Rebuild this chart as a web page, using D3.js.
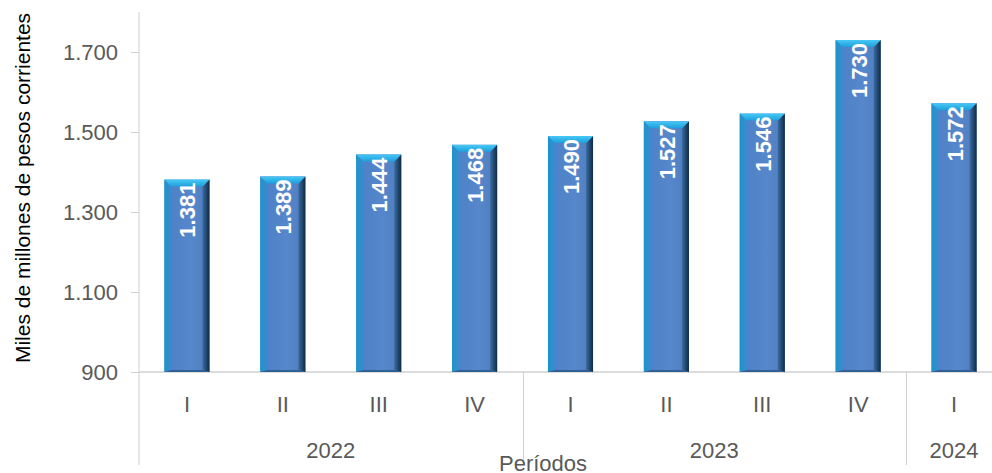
<!DOCTYPE html>
<html><head><meta charset="utf-8">
<script src="https://cdn.jsdelivr.net/npm/d3@7"></script>
<style>body{margin:0;background:#fff}svg{display:block}</style>
</head><body>
<script>
const quarters = ["I","II","III","IV","I","II","III","IV","I"];
const years = ["2022","2022","2022","2022","2023","2023","2023","2023","2024"];
const values = [1381,1389,1444,1468,1490,1527,1546,1730,1572];
const yTicks = [900,1100,1300,1500,1700];
const yTitle = "Miles de millones de pesos corrientes";
const xTitle = "Períodos";

(function(){
const W = 992, H = 473;
const pLeft = 139, pRight = 1002, pTop = 12, base = 372;
const svg = d3.select("body").append("svg").attr("width", W).attr("height", H);
const font = "'Liberation Sans', Arial, sans-serif";
const loc = d3.formatLocale({decimal: ",", thousands: ".", grouping: [3], currency: ["$",""]});
const fmt = loc.format(",d");

const ids = values.map((v,i)=>i);
const x = d3.scaleBand().domain(ids).range([pLeft, pRight]).paddingInner(0.53).paddingOuter(0.265);
const y = d3.scaleLinear().domain([900,1800]).range([base, pTop]);

const defs = svg.append("defs");
const g1 = defs.append("linearGradient").attr("id","face").attr("x1",0).attr("x2",1).attr("y1",0).attr("y2",0);
g1.append("stop").attr("offset","0%").attr("stop-color","#4a7fc6");
g1.append("stop").attr("offset","60%").attr("stop-color","#5787cb");
g1.append("stop").attr("offset","100%").attr("stop-color","#4d7cbd");
const gr = defs.append("linearGradient").attr("id","rightEdge").attr("x1",0).attr("x2",1).attr("y1",0).attr("y2",0);
gr.append("stop").attr("offset","0%").attr("stop-color","#3a6da3");
gr.append("stop").attr("offset","100%").attr("stop-color","#0e2a45");
const gl = defs.append("linearGradient").attr("id","leftEdge").attr("x1",0).attr("x2",1).attr("y1",0).attr("y2",0);
gl.append("stop").attr("offset","0%").attr("stop-color","#1b95c9");
gl.append("stop").attr("offset","100%").attr("stop-color","#3d8ad0");
const gt = defs.append("linearGradient").attr("id","topEdge").attr("x1",0).attr("x2",0).attr("y1",0).attr("y2",1);
gt.append("stop").attr("offset","0%").attr("stop-color","#47c8f5");
gt.append("stop").attr("offset","100%").attr("stop-color","#1e9fdc");

const yAxis = d3.axisLeft(y).tickValues(yTicks).tickSize(8).tickPadding(13).tickFormat(fmt);
const ya = svg.append("g").attr("transform",`translate(${pLeft},0)`).call(yAxis);
ya.select(".domain").remove();
ya.selectAll(".tick line").attr("stroke","#d0d0d0");
ya.selectAll(".tick text").attr("font-family",font).attr("font-size",22).attr("fill","#595959");
svg.append("line").attr("x1",pLeft).attr("x2",pLeft).attr("y1",pTop).attr("y2",465).attr("stroke","#d0d0d0");

svg.append("line").attr("x1",pLeft).attr("x2",W).attr("y1",base).attr("y2",base).attr("stroke","#d0d0d0").attr("stroke-width",1.5);

const step = x.step();
const groups = [];
years.forEach((yr,i)=>{ if(!groups.length || groups[groups.length-1].yr!==yr) groups.push({yr, s:i, e:i}); else groups[groups.length-1].e=i; });
const bandStart = i => x(i) - (step - x.bandwidth())/2;
groups.slice(1).forEach(g=>{
  const xx = Math.round(bandStart(g.s))+0.5;
  svg.append("line").attr("x1",xx).attr("x2",xx).attr("y1",base).attr("y2",465).attr("stroke","#d0d0d0");
});

const bev = 7;
const bars = svg.append("g").selectAll("g").data(ids).join("g");
bars.each(function(i){
  const g = d3.select(this);
  const x0 = x(i), w = x.bandwidth(), x1 = x0 + w, yt = y(values[i]), yb = base;
  g.append("rect").attr("x",x0).attr("y",yt).attr("width",w).attr("height",yb-yt).attr("fill","url(#face)");
  g.append("polygon").attr("points",`${x0},${yt} ${x0+bev},${yt+bev} ${x0+bev},${yb-2} ${x0},${yb}`).attr("fill","url(#leftEdge)");
  g.append("polygon").attr("points",`${x1},${yt} ${x1-bev},${yt+bev} ${x1-bev},${yb-2} ${x1},${yb}`).attr("fill","url(#rightEdge)");
  g.append("polygon").attr("points",`${x0},${yt} ${x1},${yt} ${x1-bev},${yt+bev} ${x0+bev},${yt+bev}`).attr("fill","url(#topEdge)");
  g.append("polygon").attr("points",`${x0},${yb} ${x1},${yb} ${x1-bev},${yb-2} ${x0+bev},${yb-2}`).attr("fill","#2f5f93");
  const cx = x0 + w/2 + 8.5, ty = yt + 3;
  g.append("text").attr("transform",`translate(${cx},${ty}) rotate(-90)`).attr("text-anchor","end")
    .attr("font-family",font).attr("font-weight","bold").attr("font-size",22).attr("fill","#fff").text(fmt(values[i]));
});

svg.append("g").selectAll("text").data(ids).join("text")
  .attr("x",i=>x(i)+x.bandwidth()/2).attr("y",412).attr("text-anchor","middle")
  .attr("font-family",font).attr("font-size",22).attr("fill","#595959").text(i=>quarters[i]);
svg.append("g").selectAll("text").data(groups).join("text")
  .attr("x",g=>(bandStart(g.s)+bandStart(g.e)+step)/2).attr("y",458).attr("text-anchor","middle")
  .attr("font-family",font).attr("font-size",22).attr("fill","#595959").text(g=>g.yr);

svg.append("text").attr("x",543).attr("y",471).attr("text-anchor","middle")
  .attr("font-family",font).attr("font-size",22).attr("fill","#595959").text(xTitle);
svg.append("text").attr("transform","translate(30,188) rotate(-90)").attr("text-anchor","middle")
  .attr("font-family",font).attr("font-size",21).attr("fill","#000").text(yTitle);
})();
</script>
</body></html>
